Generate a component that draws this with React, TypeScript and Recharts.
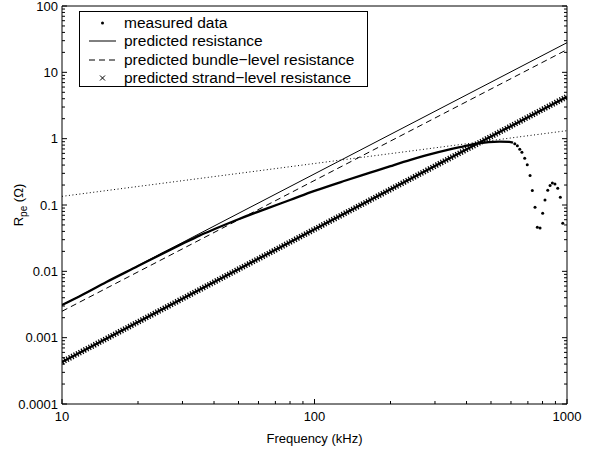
import { ComposedChart, Line, Scatter, XAxis, YAxis } from 'recharts'

// frequency (kHz) / resistance (ohm)
const measuredFreq = [10, 12, 15, 20, 25, 30, 35, 40, 50, 65, 80, 100, 130, 166, 200, 240, 286, 340, 390, 438, 490, 540, 590, 611]
const measuredR = [0.0031, 0.0044, 0.0069, 0.012, 0.0185, 0.026, 0.0345, 0.043, 0.061, 0.089, 0.119, 0.163, 0.228, 0.307, 0.385, 0.478, 0.58, 0.685, 0.765, 0.84, 0.885, 0.9, 0.895, 0.87]

const tailFreq = [621, 636, 650, 663, 680, 696, 714, 729, 747, 763, 782, 801, 818, 839, 857, 875, 896, 919, 941, 962]
const tailR = [0.835, 0.779, 0.695, 0.626, 0.508, 0.403, 0.278, 0.165, 0.0927, 0.0463, 0.0452, 0.0752, 0.119, 0.167, 0.196, 0.215, 0.208, 0.179, 0.131, 0.0532]

const lineFreq = [10, 1000]
const predictedR = [0.0031, 28]
const bundleR = [0.0025, 22]
const strandR = [0.00043, 4.3]
const dottedR = [0.135, 1.32]

const xMajor = [10, 100, 1000]
const yMajor = [0.0001, 0.001, 0.01, 0.1, 1, 10, 100]
const minorMult = [2, 3, 4, 5, 6, 7, 8, 9]

const xTicks = xMajor.flatMap((d, i) => (i < xMajor.length - 1 ? [d, ...minorMult.map((m) => d * m)] : [d]))
const yTicks = yMajor.flatMap((d, i) => (i < yMajor.length - 1 ? [d, ...minorMult.map((m) => d * m)] : [d]))

const toPts = (fs: number[], rs: number[]) => fs.map((f, i) => ({ f, r: rs[i] }))

const measured = toPts(measuredFreq, measuredR)
const tail = toPts(tailFreq, tailR)
const predicted = toPts(lineFreq, predictedR)
const bundle = toPts(lineFreq, bundleR)
const strand = toPts(lineFreq, strandR)
const dotted = toPts(lineFreq, dottedR)

const FONT = '"Liberation Sans", Arial, Helvetica, sans-serif'

const isMajor = (v: number, majors: number[]) => majors.some((m) => Math.abs(v / m - 1) < 1e-6)

function BottomTick({ x, y, payload }: any) {
  const major = isMajor(payload.value, xMajor)
  return (
    <g>
      <line x1={x} x2={x} y1={y} y2={y - (major ? 5 : 3)} stroke="#000" />
      {major && (
        <text x={x} y={y + 17} textAnchor="middle" fontSize={13} fontFamily={FONT} fill="#000">
          {String(payload.value)}
        </text>
      )}
    </g>
  )
}

function TopTick({ x, y, payload }: any) {
  const major = isMajor(payload.value, xMajor)
  return <line x1={x} x2={x} y1={y} y2={y + (major ? 5 : 3)} stroke="#000" />
}

function LeftTick({ x, y, payload }: any) {
  const major = isMajor(payload.value, yMajor)
  return (
    <g>
      <line x1={x} x2={x + (major ? 5 : 3)} y1={y} y2={y} stroke="#000" />
      {major && (
        <text x={x - 4} y={y + 4.5} textAnchor="end" fontSize={13} fontFamily={FONT} fill="#000">
          {String(payload.value)}
        </text>
      )}
    </g>
  )
}

function RightTick({ x, y, payload }: any) {
  const major = isMajor(payload.value, yMajor)
  return <line x1={x} x2={x - (major ? 5 : 3)} y1={y} y2={y} stroke="#000" />
}

function XLabel({ viewBox }: any) {
  return (
    <text x={viewBox.x + viewBox.width / 2} y={viewBox.y + 39} textAnchor="middle" fontSize={13} fontFamily={FONT} fill="#000">
      Frequency (kHz)
    </text>
  )
}

function YLabel({ viewBox }: any) {
  const cx = viewBox.x + 16
  const cy = viewBox.y + viewBox.height / 2
  return (
    <text x={cx} y={cy} transform={`rotate(-90, ${cx}, ${cy})`} textAnchor="middle" fontSize={13} fontFamily={FONT} fill="#000">
      R<tspan dy={4} fontSize={10}>pe</tspan>
      <tspan dy={-4}> (Ω)</tspan>
    </text>
  )
}

const legendRows = [
  { label: 'measured data', kind: 'dot' },
  { label: 'predicted resistance', kind: 'solid' },
  { label: 'predicted bundle−level resistance', kind: 'dash' },
  { label: 'predicted strand−level resistance', kind: 'cross' },
]

function LegendBox() {
  return (
    <div
      style={{
        position: 'absolute',
        left: 79,
        top: 11,
        width: 289,
        height: 76,
        border: '1px solid #000',
        boxSizing: 'border-box',
        background: '#fff',
        fontFamily: FONT,
        fontSize: 15.5,
        color: '#000',
      }}
    >
      {legendRows.map((row, i) => (
        <div key={row.label} style={{ position: 'absolute', left: 0, top: 1.5 + i * 18.5, height: 18, width: '100%' }}>
          <svg width={40} height={18} style={{ position: 'absolute', left: 0, top: 0 }}>
            {row.kind === 'dot' && <circle cx={22.5} cy={9} r={1.5} fill="#000" />}
            {row.kind === 'solid' && <line x1={9} x2={36} y1={9} y2={9} stroke="#000" />}
            {row.kind === 'dash' && <line x1={9} x2={36} y1={9} y2={9} stroke="#000" strokeDasharray="6 4" />}
            {row.kind === 'cross' && (
              <g stroke="#000" strokeWidth={1}>
                <line x1={20} x2={25} y1={6.5} y2={11.5} />
                <line x1={20} x2={25} y1={11.5} y2={6.5} />
              </g>
            )}
          </svg>
          <span style={{ position: 'absolute', left: 44, top: 0, lineHeight: '18px', whiteSpace: 'nowrap' }}>{row.label}</span>
        </div>
      ))}
    </div>
  )
}

export default function App() {
  return (
    <div style={{ position: 'relative', width: 604, height: 451, background: '#fff' }}>
      <style>{'body{margin:0}'}</style>
      <ComposedChart width={604} height={451} margin={{ top: 1, right: 32, bottom: 17, left: 7 }}>
        <XAxis
          dataKey="f"
          type="number"
          scale="log"
          domain={[10, 1000]}
          allowDataOverflow
          ticks={xTicks}
          interval={0}
          tickSize={0}
          tickMargin={0}
          tickLine={false}
          tick={<BottomTick />}
          axisLine={{ stroke: '#000' }}
          height={30}
          label={<XLabel />}
        />
        <XAxis
          xAxisId="top"
          orientation="top"
          type="number"
          scale="log"
          domain={[10, 1000]}
          allowDataOverflow
          ticks={xTicks}
          interval={0}
          tickSize={0}
          tickMargin={0}
          tickLine={false}
          tick={<TopTick />}
          axisLine={{ stroke: '#000' }}
          height={5}
        />
        <YAxis
          dataKey="r"
          type="number"
          scale="log"
          domain={[0.0001, 100]}
          allowDataOverflow
          ticks={yTicks}
          interval={0}
          tickSize={0}
          tickMargin={0}
          tickLine={false}
          tick={<LeftTick />}
          axisLine={{ stroke: '#000' }}
          width={55}
          label={<YLabel />}
        />
        <YAxis
          yAxisId="right"
          orientation="right"
          type="number"
          scale="log"
          domain={[0.0001, 100]}
          allowDataOverflow
          ticks={yTicks}
          interval={0}
          tickSize={0}
          tickMargin={0}
          tickLine={false}
          tick={<RightTick />}
          axisLine={{ stroke: '#000' }}
          width={5}
        />
        <Line data={dotted} dataKey="r" stroke="#000" strokeWidth={1} strokeDasharray="1 2.5" dot={false} isAnimationActive={false} />
        <Line data={predicted} dataKey="r" stroke="#000" strokeWidth={1} dot={false} isAnimationActive={false} />
        <Line data={bundle} dataKey="r" stroke="#000" strokeWidth={1} strokeDasharray="6 4" dot={false} isAnimationActive={false} />
        <Line data={strand} dataKey="r" stroke="#000" strokeWidth={2.2} dot={false} isAnimationActive={false} />
        <Line data={strand} dataKey="r" stroke="#000" strokeWidth={6} strokeDasharray="1.2 1.6" dot={false} isAnimationActive={false} />
        <Line data={measured} dataKey="r" type="monotone" stroke="#000" strokeWidth={2.3} dot={false} isAnimationActive={false} />
        <Scatter
          data={tail}
          dataKey="r"
          fill="#000"
          isAnimationActive={false}
          shape={(p: any) => <circle cx={p.cx} cy={p.cy} r={1.5} fill="#000" />}
        />
      </ComposedChart>
      <LegendBox />
    </div>
  )
}
